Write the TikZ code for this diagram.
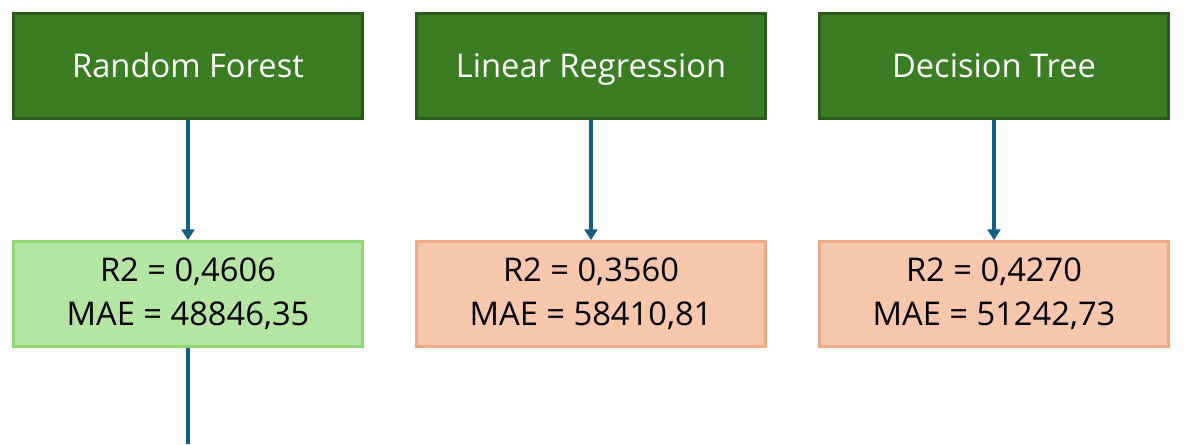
\documentclass[tikz,border=0pt]{standalone}
\usepackage{fontspec}
\setmainfont{Open Sans}
\usetikzlibrary{arrows.meta}
\definecolor{dgfill}{HTML}{3B7D23}
\definecolor{dgdraw}{HTML}{2A5A19}
\definecolor{lgfill}{HTML}{B4E5A2}
\definecolor{lgdraw}{HTML}{8ED873}
\definecolor{sfill}{HTML}{F6C6AD}
\definecolor{sdraw}{HTML}{F1A983}
\definecolor{arr}{HTML}{156082}
\begin{document}
\begin{tikzpicture}[x=0.75pt,y=-0.75pt,
  model/.style={draw=dgdraw,fill=dgfill,line width=1.8pt,minimum width=262pt,minimum height=79pt,text=white,font=\fontsize{24.5}{29}\selectfont,inner sep=0pt,text height=23pt,text depth=6pt},
  resbox/.style={line width=1.8pt,minimum width=262pt,minimum height=79pt,text=black,font=\fontsize{24.5}{33}\selectfont,align=center,inner sep=0pt},
  best/.style={resbox,draw=lgdraw,fill=lgfill},
  other/.style={resbox,draw=sdraw,fill=sfill},
  conn/.style={draw=arr,line width=2.3pt,-{Triangle[width=9.5pt,length=8pt]}},
  plain/.style={draw=arr,line width=2.3pt}]
\useasboundingbox (0,0) rectangle (1184,444);
\node[model] (rf) at (188,66) {Random Forest};
\node[model] (lr) at (591,66) {Linear Regression};
\node[model] (dt) at (994,66) {Decision Tree};
\node[best] (rfr) at (188,294) {R2 = 0,4606\\MAE = 48846,35};
\node[other] (lrr) at (591,294) {R2 = 0,3560\\MAE = 58410,81};
\node[other] (dtr) at (994,294) {R2 = 0,4270\\MAE = 51242,73};
\coordinate (end) at (188,444);
\draw[conn] (rf) -- (rfr);
\draw[conn] (lr) -- (lrr);
\draw[conn] (dt) -- (dtr);
\draw[plain] (rfr) -- (end);
\end{tikzpicture}
\end{document}
